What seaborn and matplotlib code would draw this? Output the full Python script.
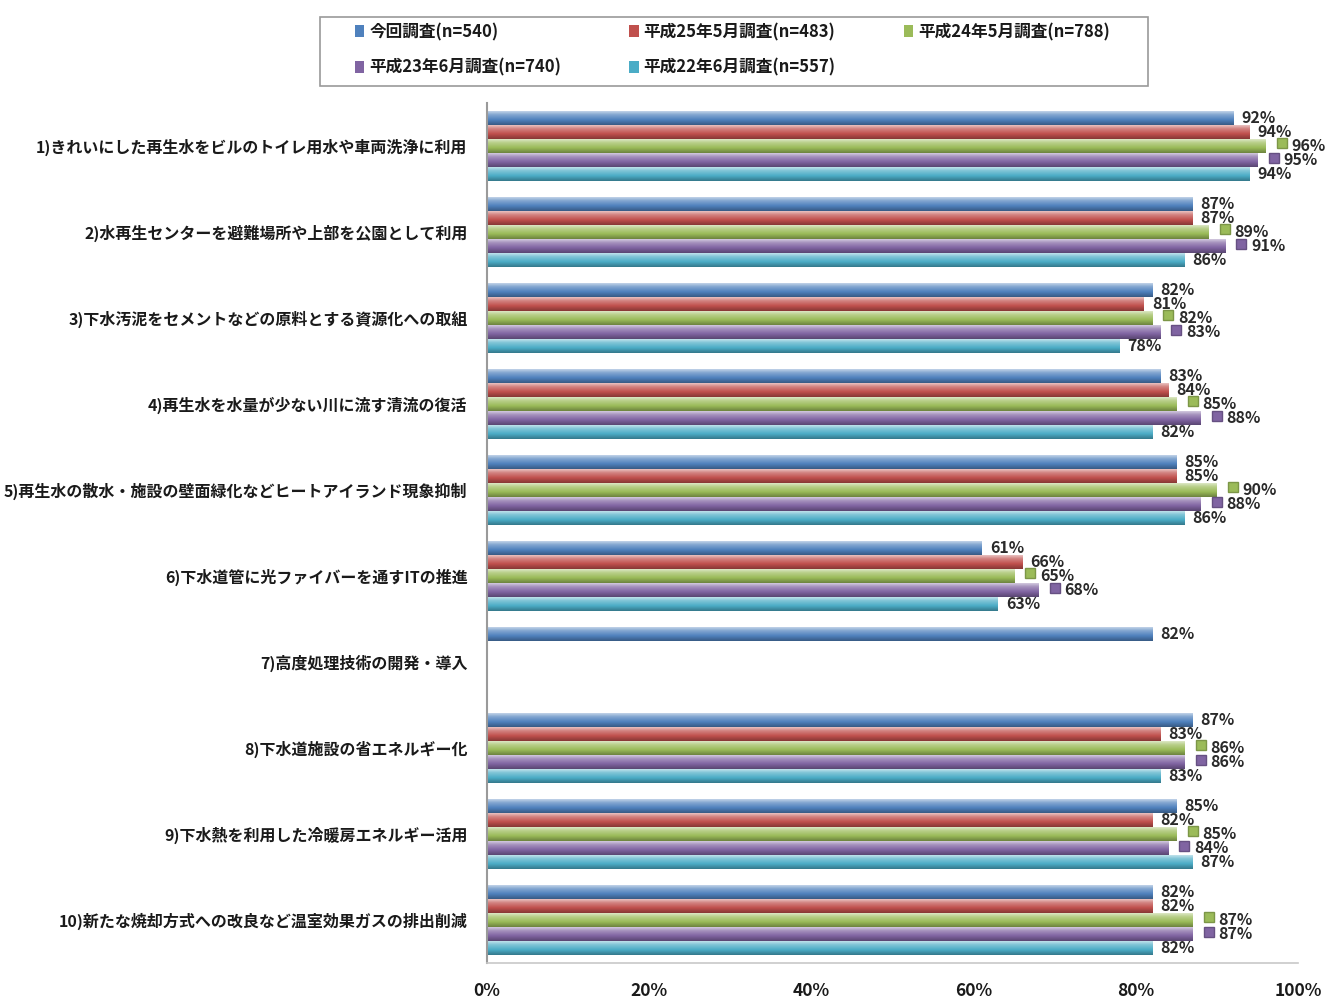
import numpy as np
import pandas as pd
import matplotlib
matplotlib.use("Agg")
import matplotlib.pyplot as plt
import seaborn as sns
from matplotlib.colors import LinearSegmentedColormap, to_rgb
from matplotlib.patches import Patch, Rectangle

# ---- data -------------------------------------------------------------
categories = [
    "1)きれいにした再生水をビルのトイレ用水や車両洗浄に利用",
    "2)水再生センターを避難場所や上部を公園として利用",
    "3)下水汚泥をセメントなどの原料とする資源化への取組",
    "4)再生水を水量が少ない川に流す清流の復活",
    "5)再生水の散水・施設の壁面緑化などヒートアイランド現象抑制",
    "6)下水道管に光ファイバーを通すITの推進",
    "7)高度処理技術の開発・導入",
    "8)下水道施設の省エネルギー化",
    "9)下水熱を利用した冷暖房エネルギー活用",
    "10)新たな焼却方式への改良など温室効果ガスの排出削減",
]
series_names = [
    "今回調査(n=540)",
    "平成25年5月調査(n=483)",
    "平成24年5月調査(n=788)",
    "平成23年6月調査(n=740)",
    "平成22年6月調査(n=557)",
]
survey_now = [92, 87, 82, 83, 85, 61, 82, 87, 85, 82]
survey_h25 = [94, 87, 81, 84, 85, 66, np.nan, 83, 82, 82]
survey_h24 = [96, 89, 82, 85, 90, 65, np.nan, 86, 85, 87]
survey_h23 = [95, 91, 83, 88, 88, 68, np.nan, 86, 84, 87]
survey_h22 = [94, 86, 78, 82, 86, 63, np.nan, 83, 87, 82]
x_ticks = [0, 20, 40, 60, 80, 100]

colors = ["#4F81BD", "#C0504D", "#9BBB59", "#8064A2", "#4BACC6"]
all_series = [survey_now, survey_h25, survey_h24, survey_h23, survey_h22]

rows = []
for name, vals in zip(series_names, all_series):
    for cat, v in zip(categories, vals):
        if not np.isnan(v):
            rows.append({"category": cat, "series": name, "value": v})
df = pd.DataFrame(rows)

# ---- style ------------------------------------------------------------
sns.set_style("white")
plt.rcParams["font.family"] = ["Noto Sans CJK JP", "DejaVu Sans"]
text_color = "#1a1a1a"
W, H = 1326, 1001

fig = plt.figure(figsize=(W / 100, H / 100), dpi=100)
ax = fig.add_axes([487 / W, 1 - 963 / H, 811 / W, 860 / H])

group_width = 0.82
sns.barplot(
    data=df, y="category", x="value", hue="series",
    order=categories, hue_order=series_names, palette=colors,
    width=group_width, orient="h", saturation=1, errorbar=None,
    legend=False, ax=ax,
)
ax.set_xlim(0, 100)
ax.set_ylim(len(categories) - 0.5, -0.5)
xlim, ylim = ax.get_xlim(), ax.get_ylim()


def mix(c, other, t):
    return tuple(np.array(c) * (1 - t) + np.array(other) * t)


# cylinder-like shading on every bar
grad = np.linspace(0, 1, 64).reshape(-1, 1)
for bar in list(ax.patches):
    w, h = bar.get_width(), bar.get_height()
    if not np.isfinite(w) or w == 0:
        continue
    x0, y0 = bar.get_x(), bar.get_y()
    base = to_rgb(bar.get_facecolor())
    cmap = LinearSegmentedColormap.from_list("shade", [
        (0.0, mix(base, (1, 1, 1), 0.75)),
        (0.3, mix(base, (1, 1, 1), 0.3)),
        (0.65, base),
        (1.0, mix(base, (0, 0, 0), 0.3)),
    ])
    bar.set_edgecolor("none")
    im = ax.imshow(grad, cmap=cmap, extent=(x0, x0 + w, y0 + h, y0),
                   aspect="auto", origin="upper", interpolation="bilinear",
                   zorder=bar.get_zorder() + 0.1)
    im.set_clip_path(bar)
ax.set_xlim(xlim)
ax.set_ylim(ylim)

# value labels
bar_h = group_width / len(series_names)
for j, (vals, col) in enumerate(zip(all_series, colors)):
    for i, v in enumerate(vals):
        if np.isnan(v):
            continue
        y = i + (j - (len(series_names) - 1) / 2) * bar_h
        if j in (2, 3):
            ax.plot(v + 2.0, y - 0.03, marker="s", ms=7, color=col,
                    mec=mix(to_rgb(col), (0, 0, 0), 0.2), clip_on=False, zorder=5)
            tx = v + 3.2
        else:
            tx = v + 1.0
        ax.text(tx, y, f"{v:.0f}%", ha="left", va="center", fontsize=11.5,
                fontweight="bold", color="#2a2a2a", clip_on=False, zorder=6)

# axes decoration
ax.set_xlabel("")
ax.set_ylabel("")
ax.set_xticks(x_ticks)
ax.set_xticklabels([f"{t}%" for t in x_ticks], fontsize=12.5, fontweight="bold",
                   color=text_color)
ax.tick_params(axis="x", direction="in", length=5, color="#c8c8c8", pad=14)
ax.tick_params(axis="y", length=0, pad=14)
for lbl in ax.get_yticklabels():
    lbl.set_fontsize(11.5)
    lbl.set_fontweight("bold")
    lbl.set_color(text_color)
for side in ("top", "right"):
    ax.spines[side].set_visible(False)
ax.spines["left"].set_color("#9a9a9a")
ax.spines["left"].set_linewidth(1.5)
ax.spines["bottom"].set_color("#c8c8c8")
ax.spines["bottom"].set_linewidth(1.2)

# legend laid out row by row, inside its own frame
fig.add_artist(Rectangle((320 / W, 1 - 86 / H), 828 / W, 69 / H,
                         transform=fig.transFigure, facecolor="white",
                         edgecolor="#9a9a9a", linewidth=1.2, zorder=1))
handles = [Patch(facecolor=c, edgecolor="none") for c in colors]
order = [0, 3, 1, 4, 2]
leg = fig.legend(
    [handles[k] for k in order], [series_names[k] for k in order],
    ncol=3, loc="upper left",
    bbox_to_anchor=(355 / W, 1 - 23 / H),
    frameon=False, handlelength=0.55, handleheight=0.75, handletextpad=0.3,
    borderpad=0, borderaxespad=0, labelspacing=1.05, columnspacing=4.1,
    prop={"size": 12, "weight": "bold"},
)
leg.set_zorder(2)
for t in leg.get_texts():
    t.set_color(text_color)

fig.savefig("out.png", dpi=100)
